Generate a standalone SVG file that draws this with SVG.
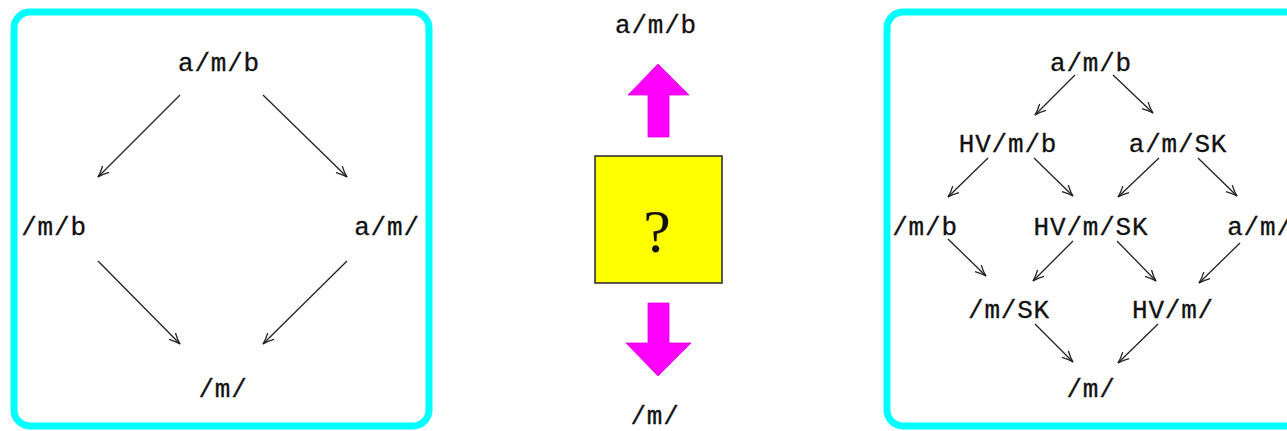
<svg xmlns="http://www.w3.org/2000/svg" width="1287" height="431" viewBox="0 0 1287 431">
<style>
.frame{fill:none;stroke:#00ffff;stroke-width:7}
.lbl{font-family:"Liberation Mono","DejaVu Sans Mono",monospace;font-size:26px;letter-spacing:0.8px;text-anchor:middle;fill:#111;stroke:#111;stroke-width:0.3}
.edge{stroke:#222;stroke-width:1.3;fill:none;marker-end:url(#ah)}
.big{fill:#ff00ff;stroke:#e000e0;stroke-width:0.8}
</style>
<defs>
<marker id="ah" markerUnits="userSpaceOnUse" orient="auto" refX="0" refY="0" markerWidth="20" markerHeight="20" overflow="visible">
<path d="M-11,-4.5 Q-5,-1.2 0,0 Q-5,1.2 -11,4.5" fill="none" stroke="#222" stroke-width="1.3"/>
</marker>
</defs>

<rect class="frame" x="14" y="12" width="415" height="414" rx="16"/>
<rect class="frame" x="887" y="12" width="415" height="414" rx="16"/>

<g id="connectors">
<line class="edge" x1="180" y1="95" x2="98" y2="177"/>
<line class="edge" x1="263" y1="95" x2="347" y2="177"/>
<line class="edge" x1="98" y1="261" x2="180" y2="344"/>
<line class="edge" x1="347" y1="261" x2="263" y2="344"/>

<line class="edge" x1="1075" y1="75" x2="1035" y2="115"/>
<line class="edge" x1="1113" y1="75" x2="1153" y2="113"/>
<line class="edge" x1="988" y1="158" x2="948" y2="197"/>
<line class="edge" x1="1034" y1="158" x2="1073" y2="196"/>
<line class="edge" x1="1159" y1="158" x2="1118" y2="197"/>
<line class="edge" x1="1198" y1="158" x2="1237" y2="196"/>
<line class="edge" x1="948" y1="239" x2="986" y2="276"/>
<line class="edge" x1="1073" y1="241" x2="1033" y2="281"/>
<line class="edge" x1="1117" y1="241" x2="1156" y2="281"/>
<line class="edge" x1="1240" y1="243" x2="1199" y2="283"/>
<line class="edge" x1="1035" y1="324" x2="1073" y2="362"/>
<line class="edge" x1="1158" y1="324" x2="1118" y2="363"/>

<polygon class="big" points="658,64 689,95 669,95 669,137 648,137 648,95 628,95"/>
<polygon class="big" points="658,376 691,343 669,343 669,303 648,303 648,343 626,343"/>
</g>

<g id="L_amb"><text class="lbl" x="219" y="71">a/m/b</text></g>
<g id="L_mb"><text class="lbl" x="54" y="235">/m/b</text></g>
<g id="L_am"><text class="lbl" x="387" y="235">a/m/</text></g>
<g id="L_m"><text class="lbl" x="223" y="397">/m/</text></g>

<g id="M_top"><text class="lbl" x="656" y="33">a/m/b</text></g>
<g id="M_box">
<rect x="595" y="156" width="127" height="127" fill="#ffff00" stroke="#333" stroke-width="1.6"/>
<text x="657" y="252" font-family="Liberation Serif,serif" font-size="62" text-anchor="middle" fill="#111">?</text>
</g>
<g id="M_bot"><text class="lbl" x="655" y="424">/m/</text></g>

<g id="R_amb"><text class="lbl" x="1091" y="71">a/m/b</text></g>
<g id="R_HVmb"><text class="lbl" x="1008" y="152">HV/m/b</text></g>
<g id="R_amSK"><text class="lbl" x="1178" y="152">a/m/SK</text></g>
<g id="R_mb"><text class="lbl" x="925" y="235">/m/b</text></g>
<g id="R_HVmSK"><text class="lbl" x="1091" y="235">HV/m/SK</text></g>
<g id="R_am"><text class="lbl" x="1260" y="235">a/m/</text></g>
<g id="R_mSK"><text class="lbl" x="1009" y="318">/m/SK</text></g>
<g id="R_HVm"><text class="lbl" x="1173" y="318">HV/m/</text></g>
<g id="R_m"><text class="lbl" x="1091" y="397">/m/</text></g>
</svg>
